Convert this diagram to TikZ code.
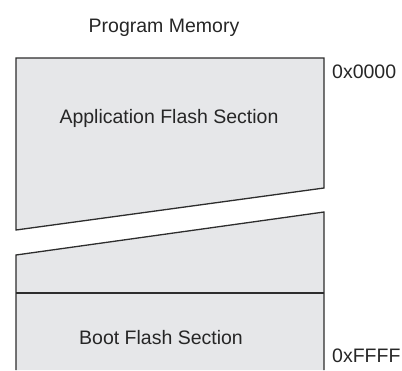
\documentclass[tikz,border=0pt]{standalone}
\usepackage{fontspec}
\setmainfont{Liberation Sans}
\usepackage{xcolor}
\definecolor{ColFill}{RGB}{230,231,233}
\definecolor{ColLine}{RGB}{45,45,45}
\tikzstyle{MemBlock}=[draw=ColLine,fill=ColFill,line width=1.3pt,line join=miter]
\tikzstyle{MemLine}=[draw=ColLine,line width=1.3pt]
\tikzstyle{MemText}=[font=\fontsize{19.5}{23}\selectfont,inner sep=0pt,text=black!85]

\begin{document}
\begin{tikzpicture}[x=1pt,y=-1pt]
        \useasboundingbox(0,0)rectangle(402,370);
        % upper block, cut at the bottom
        \draw[MemBlock](16,58)--(324,58)--(324,188)--(16,230)--cycle;
        % lower block, open at the bottom
        \fill[ColFill](16,255)--(324,212)--(324,370)--(16,370)--cycle;
        \draw[MemLine](16,370)--(16,255)--(324,212)--(324,370);
        \draw[MemLine](16,293)--(324,293);
        \node[MemText,anchor=base](title)at(164,32){Program Memory};
        \node[MemText,anchor=base](app)at(169,123){Application Flash Section};
        \node[MemText,anchor=base](boot)at(161,344){Boot Flash Section};
        \node[MemText,anchor=base west](start)at(332,78){0x0000};
        \node[MemText,anchor=base west](stop)at(332,362){0xFFFF};
    \end{tikzpicture}
\end{document}
